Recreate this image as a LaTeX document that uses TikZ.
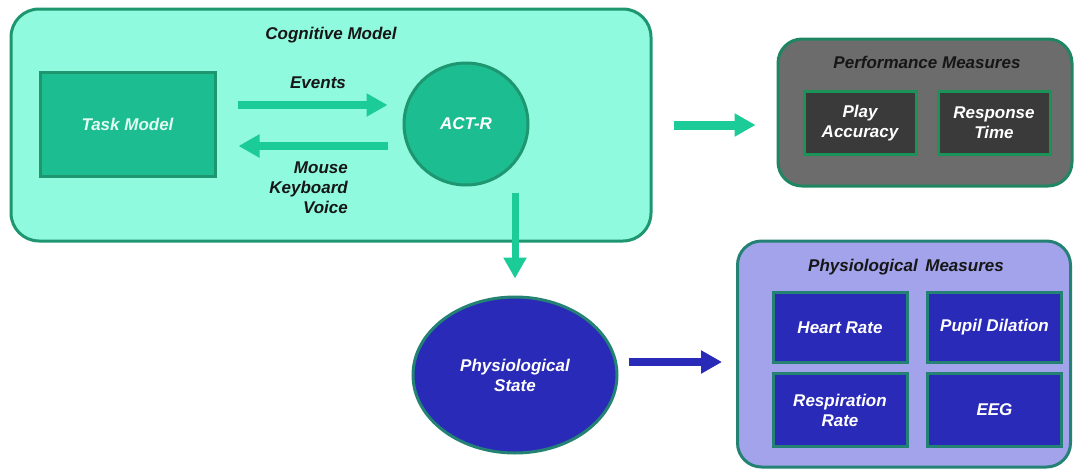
\documentclass[tikz,border=0pt]{standalone}
\usepackage{fontspec}
\setmainfont{Liberation Sans}
\usetikzlibrary{arrows.meta,shapes.geometric,calc}

\definecolor{aqua}{RGB}{144,250,222}
\definecolor{aquaedge}{RGB}{30,150,112}
\definecolor{seagreen}{RGB}{28,190,145}
\definecolor{arrowgreen}{RGB}{28,204,152}
\definecolor{perfgray}{RGB}{108,108,108}
\definecolor{perfedge}{RGB}{30,135,98}
\definecolor{perfdark}{RGB}{58,58,58}
\definecolor{lav}{RGB}{163,163,236}
\definecolor{navy}{RGB}{42,42,185}
\definecolor{tealedge}{RGB}{35,130,115}
\definecolor{ink}{RGB}{22,22,22}

\tikzset{
  lbl/.style={font=\fontsize{17}{20}\selectfont\bfseries\itshape, inner sep=0pt},
  panel/.style={draw, line width=3pt, rounded corners=28pt, inner sep=0pt},
  item/.style={draw, line width=3pt, inner sep=0pt, align=center, text=white,
    font=\fontsize{17}{20}\selectfont\bfseries\itshape},
  fatgreen/.style={arrowgreen, line width=8pt,
    -{Triangle[length=21pt,width=22pt]}},
  fatblue/.style={navy, line width=8pt,
    -{Triangle[length=21pt,width=22pt]}},
}

\begin{document}
\begin{tikzpicture}[x=1pt,y=-1pt]
  \useasboundingbox (0,0) rectangle (1074,472);

  % cognitive model panel
  \node[panel, fill=aqua, draw=aquaedge, minimum width=640, minimum height=232]
    (cog) at (331,125) {};
  \node[lbl, text=ink] (cogt) at (331,35) {Cognitive Model};
  \node[item, fill=seagreen, draw=aquaedge, text={rgb,255:red,225;green,250;blue,242},
    minimum width=175, minimum height=104] (tm) at (127.5,124) {Task Model};
  \node[item, ellipse, fill=seagreen, draw=aquaedge,
    minimum width=124, minimum height=122] (act) at (466,124) {ACT-R};

  \draw[fatgreen] ([xshift=21pt,yshift=19pt]tm.east) -- ([xshift=-15pt,yshift=19pt]act.west);
  \draw[fatgreen] ([xshift=-15pt,yshift=-22pt]act.west) -- ([xshift=22pt,yshift=-22pt]tm.east);
  \node[lbl, text=ink] (ev) at (318,83) {Events};
  \node[lbl, text=ink, align=right, anchor=east] (mkv) at (348,188)
    {Mouse\\Keyboard\\Voice};

  % performance measures panel
  \node[panel, rounded corners=24pt, fill=perfgray, draw=perfedge,
    minimum width=294, minimum height=147] (perf) at (925,112.5) {};
  \node[lbl, text=ink] (perft) at (927,62) {Performance Measures};
  \node[item, fill=perfdark, draw=perfedge!90!green,
    minimum width=112, minimum height=63] (pa) at (860,123) {Play\\Accuracy};
  \node[item, fill=perfdark, draw=perfedge!90!green,
    minimum width=112, minimum height=63] (rt) at (994,123) {Response\\Time};

  \draw[fatgreen, line width=9pt] ([xshift=21pt]cog.east) coordinate (p0)
    -- ($(perf.west |- p0)+(-21,0)$);

  % physiological state and measures
  \node[item, ellipse, fill=navy, draw=tealedge,
    minimum width=204, minimum height=156] (ps) at (515,375) {Physiological\\State};
  \draw[fatgreen, line width=7pt] ($(ps.north |- act.south)+(0,6)$)
    -- ([yshift=17pt]ps.north);

  \node[panel, rounded corners=24pt, fill=lav, draw=tealedge,
    minimum width=333, minimum height=226] (phm) at (904,354) {};
  \node[lbl, text=ink] (phmt) at (906,267) {Physiological\, Measures};
  \node[item, fill=navy, draw=tealedge, minimum width=134, minimum height=70]
    (hr) at (840,327.5) {Heart Rate};
  \node[item, fill=navy, draw=tealedge, minimum width=134, minimum height=70]
    (pd) at (994.5,327.5) {Pupil Dilation};
  \node[item, fill=navy, draw=tealedge, minimum width=134, minimum height=73]
    (rr) at (840,410) {Respiration\\Rate};
  \node[item, fill=navy, draw=tealedge, minimum width=134, minimum height=73]
    (eeg) at (994.5,410) {EEG};

  \draw[fatblue] ([xshift=10pt,yshift=13pt]ps.east) coordinate (b0)
    -- ($(phm.west |- b0)+(-14,0)$);
\end{tikzpicture}
\end{document}
